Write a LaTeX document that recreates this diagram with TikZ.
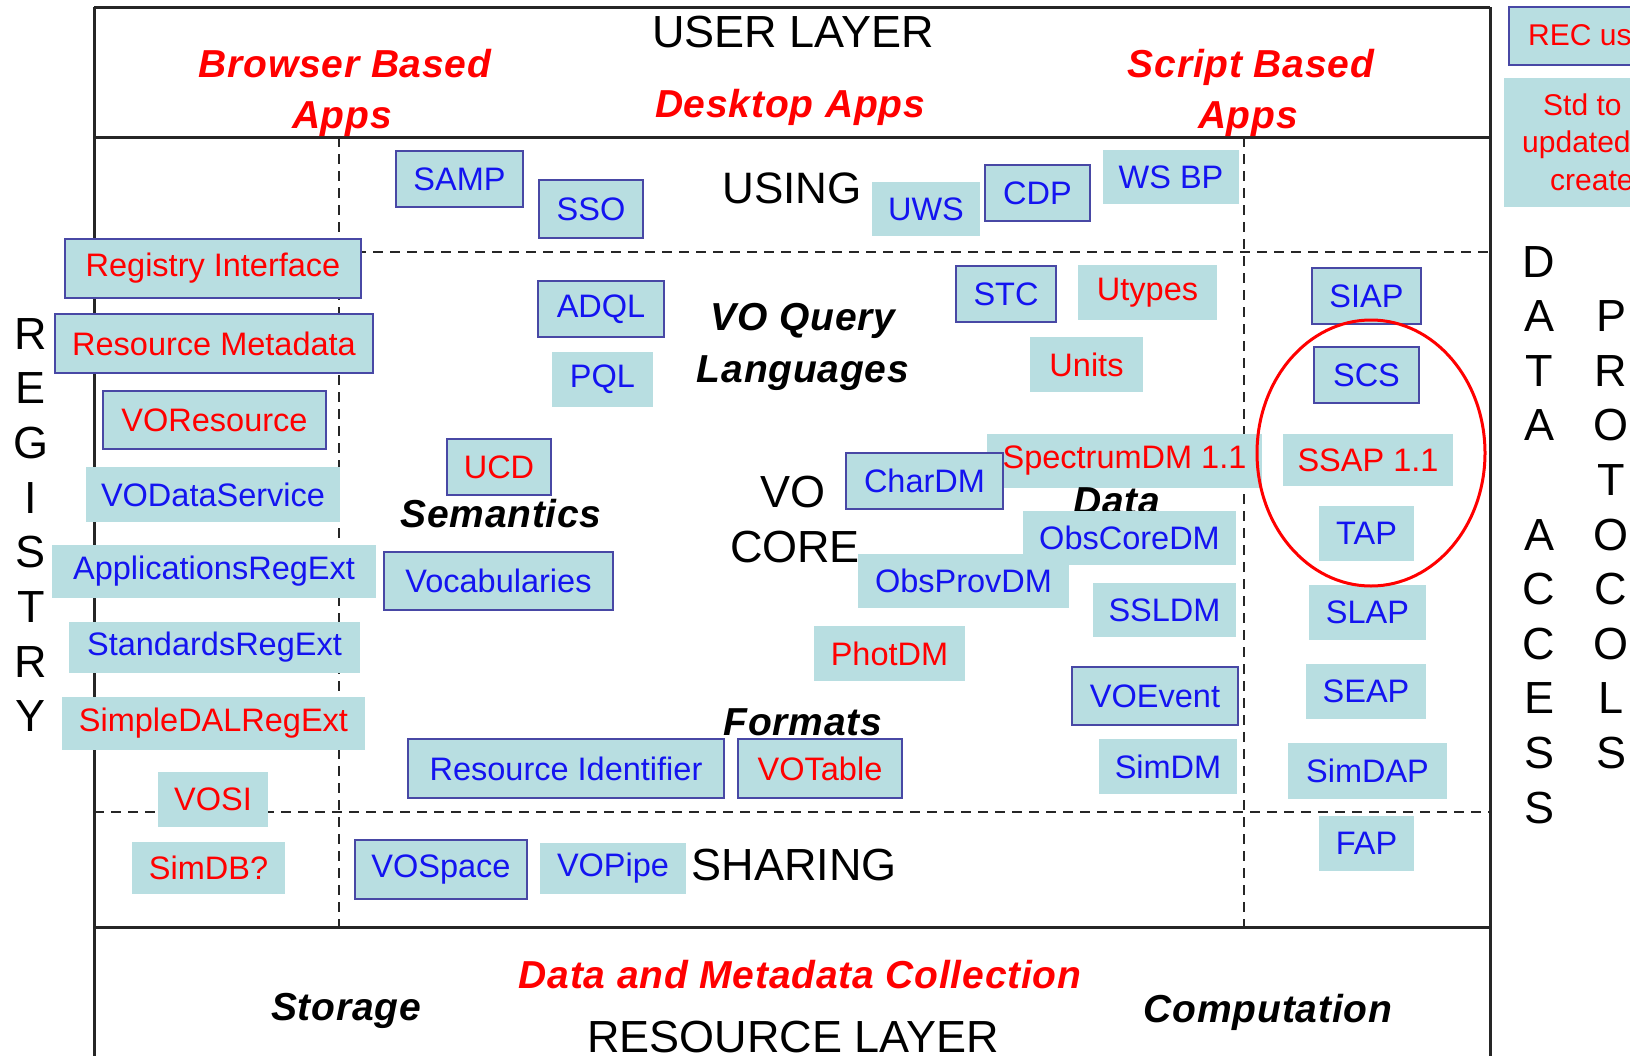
\documentclass[tikz,border=0pt]{standalone}
\usepackage{fontspec}
\setmainfont{Liberation Sans}
\definecolor{boxfill}{RGB}{184,222,225}
\definecolor{boxedge}{RGB}{72,72,165}
\definecolor{vored}{RGB}{255,0,0}
\definecolor{voblue}{RGB}{20,20,240}
\tikzset{
  boxbase/.style={fill=boxfill, inner sep=0pt, align=center, font=\fontsize{32.5}{38}\selectfont},
  bbox/.style={boxbase, draw=boxedge, line width=2.4pt},
  pbox/.style={boxbase},
  rt/.style={text=vored},
  bt/.style={text=voblue},
  big/.style={font=\fontsize{45}{50}\selectfont, text=black, inner sep=0pt, anchor=base},
  bi/.style={font=\fontsize{39}{44}\selectfont\bfseries\itshape\addfontfeatures{LetterSpace=2}, inner sep=0pt, anchor=base},
  sidetxt/.style={font=\fontsize{30}{34}\selectfont, text=vored, inner sep=0pt, anchor=base west},
  frameline/.style={line width=3pt, black!85},
  dashline/.style={line width=2.5pt, black!85, dash pattern=on 10pt off 7pt},
}
\begin{document}
\begin{tikzpicture}[x=1pt,y=-1pt]
\useasboundingbox (0,0) rectangle (1630,1055);
\clip (0,0) rectangle (1630,1055);
\fill[white] (0,0) rectangle (1630,1055);

% frame
\draw[frameline] (94,7) -- (1490,7);
\draw[frameline] (94,7) -- (94,1070);
\draw[frameline] (1490,7) -- (1490,1070);
\draw[frameline] (94,137) -- (1490,137);
\draw[frameline] (94,927) -- (1490,927);
% dashed grid
\draw[dashline] (339,137) -- (339,927);
\draw[dashline] (1244,137) -- (1244,927);
\draw[dashline] (339,252) -- (1490,252);
\draw[dashline] (94,812) -- (1490,812);

% titles
\node[big] (userlayer) at (793,47) {USER LAYER};
\node[bi,text=vored] (browser1) at (345,77) {Browser Based};
\node[bi,text=vored] (browser2) at (342,128) {Apps};
\node[bi,text=vored] (desktop) at (790,117) {Desktop Apps};
\node[bi,text=vored] (script1) at (1251,77) {Script Based};
\node[bi,text=vored] (script2) at (1248,128) {Apps};
\node[big,font=\fontsize{44}{50}\selectfont] (using) at (792,203) {USING};
\node[bi] (voquery1) at (803,330) {VO Query};
\node[bi] (voquery2) at (803,382) {Languages};
\node[bi] (semantics) at (501,527) {Semantics};
\node[big] (vo) at (793,507) {VO};
\node[big] (core) at (795,562) {CORE};
\node[bi] (formats) at (803,735) {Formats};
\node[big] (sharing) at (794,880) {SHARING};
\node[bi] (storage) at (346,1020) {Storage};
\node[bi,text=vored] (collection) at (800,988) {Data and Metadata Collection};
\node[bi] (computation) at (1268,1022) {Computation};
\node[big] (reslayer) at (793,1052) {RESOURCE LAYER};

% vertical words
\foreach \L [count=\i from 0] in {R,E,G,I,S,T,R,Y}
  \node[big] (reg\i) at (31,{349+54.7*\i}) {\L};
\foreach \i/\L in {0/D,1/A,2/T,3/A,5/A,6/C,7/C,8/E,9/S,10/S}
  \node[big] (da\i) at (1539,{277+54.6*\i}) {\L};
\foreach \i/\L in {1/P,2/R,3/O,4/T,5/O,6/C,7/O,8/L,9/S}
  \node[big] (pr\i) at (1611,{277+54.6*\i}) {\L};

% registry column
\node[bbox,rt,minimum width=296pt,minimum height=59pt] (regint) at (213,268.5) {Registry Interface};
\node[bbox,rt,minimum width=318pt,minimum height=59pt] (resmeta) at (214,343.5) {Resource Metadata};
\node[bbox,rt,minimum width=223pt,minimum height=58pt] (voresource) at (214.5,420) {VOResource};
\node[pbox,bt,minimum width=254pt,minimum height=55pt] (vodataservice) at (213,494.5) {VODataService};
\node[pbox,bt,minimum width=324pt,minimum height=53pt] (appregext) at (214,571.5) {ApplicationsRegExt};
\node[pbox,bt,minimum width=291pt,minimum height=51pt] (stdregext) at (214.5,647.5) {StandardsRegExt};
\node[pbox,rt,minimum width=303pt,minimum height=53pt] (sdalregext) at (213.5,723.5) {SimpleDALRegExt};
\node[pbox,rt,minimum width=110pt,minimum height=55pt] (vosi) at (213,799.5) {VOSI};
\node[pbox,rt,minimum width=153pt,minimum height=52pt] (simdb) at (208.5,868) {SimDB?};

% using
\node[bbox,bt,minimum width=127pt,minimum height=56pt] (samp) at (459.5,179) {SAMP};
\node[bbox,bt,minimum width=104pt,minimum height=58pt] (sso) at (591,209) {SSO};
\node[pbox,bt,minimum width=108pt,minimum height=54pt] (uws) at (926,209) {UWS};
\node[bbox,bt,minimum width=105pt,minimum height=56pt] (cdp) at (1037.5,193) {CDP};
\node[pbox,bt,minimum width=136pt,minimum height=54pt] (wsbp) at (1171,177) {WS BP};

% core
\node[bbox,bt,minimum width=126pt,minimum height=56pt] (adql) at (601,309) {ADQL};
\node[pbox,bt,minimum width=101pt,minimum height=55pt] (pql) at (602.5,379.5) {PQL};
\node[bbox,bt,minimum width=100pt,minimum height=56pt] (stc) at (1006,294) {STC};
\node[pbox,rt,minimum width=139pt,minimum height=55pt] (utypes) at (1147.5,292.5) {Utypes};
\node[pbox,rt,minimum width=113pt,minimum height=55pt] (units) at (1086.5,364.5) {Units};
\node[bbox,rt,minimum width=104pt,minimum height=56pt] (ucd) at (499,467) {UCD};
\node[bbox,bt,minimum width=229pt,minimum height=58pt] (vocab) at (498.5,581) {Vocabularies};
\node[pbox,rt,minimum width=275pt,minimum height=54pt] (spectrumdm) at (1124.5,461) {SpectrumDM 1.1};
\node[bbox,bt,minimum width=157pt,minimum height=56pt] (chardm) at (924.5,481) {CharDM};
\node[bi] (datalbl) at (1117,514) {Data};
\node[pbox,bt,minimum width=213pt,minimum height=54pt] (obscoredm) at (1129.5,538) {ObsCoreDM};
\node[pbox,bt,minimum width=211pt,minimum height=54pt] (obsprovdm) at (963.5,581) {ObsProvDM};
\node[pbox,bt,minimum width=143pt,minimum height=54pt] (ssldm) at (1164.5,610) {SSLDM};
\node[pbox,rt,minimum width=151pt,minimum height=55pt] (photdm) at (889.5,653.5) {PhotDM};
\node[bbox,bt,minimum width=166pt,minimum height=58pt] (voevent) at (1155,696) {VOEvent};
\node[pbox,bt,minimum width=138pt,minimum height=55pt] (simdm) at (1168,766.5) {SimDM};
\node[bbox,bt,minimum width=316pt,minimum height=59pt] (resid) at (566,768.5) {Resource Identifier};
\node[bbox,rt,minimum width=164pt,minimum height=59pt] (votable) at (820,768.5) {VOTable};

% sharing
\node[bbox,bt,minimum width=172pt,minimum height=59pt] (vospace) at (441,869.5) {VOSpace};
\node[pbox,bt,minimum width=146pt,minimum height=51pt] (vopipe) at (613,868.5) {VOPipe};

% data access column
\node[bbox,bt,minimum width=109pt,minimum height=56pt] (siap) at (1366.5,296) {SIAP};
\node[bbox,bt,minimum width=105pt,minimum height=56pt] (scs) at (1366.5,375) {SCS};
\node[pbox,rt,minimum width=170pt,minimum height=52pt] (ssap) at (1368,460) {SSAP 1.1};
\node[pbox,bt,minimum width=95pt,minimum height=55pt] (tap) at (1366.5,533.5) {TAP};
\node[pbox,bt,minimum width=117pt,minimum height=55pt] (slap) at (1367.5,612.5) {SLAP};
\node[pbox,bt,minimum width=120pt,minimum height=55pt] (seap) at (1366,691.5) {SEAP};
\node[pbox,bt,minimum width=159pt,minimum height=56pt] (simdap) at (1367.5,771) {SimDAP};
\node[pbox,bt,minimum width=95pt,minimum height=55pt] (fap) at (1366.5,843.5) {FAP};

\draw[vored, line width=3pt] (1371,453) ellipse [x radius=114pt, y radius=133pt];

% legend (cut at right edge)
\node[bbox,minimum width=300pt,minimum height=58pt] (recbox) at (1659,36) {};
\node[sidetxt] (rectxt) at (1528,45) {REC us};
\node[pbox,minimum width=300pt,minimum height=129pt] (stdbox) at (1654,142.5) {};
\node[sidetxt] (std1) at (1543,115) {Std to};
\node[sidetxt] (std2) at (1522,152) {updated};
\node[sidetxt] (std3) at (1550,190) {create};
\end{tikzpicture}
\end{document}
